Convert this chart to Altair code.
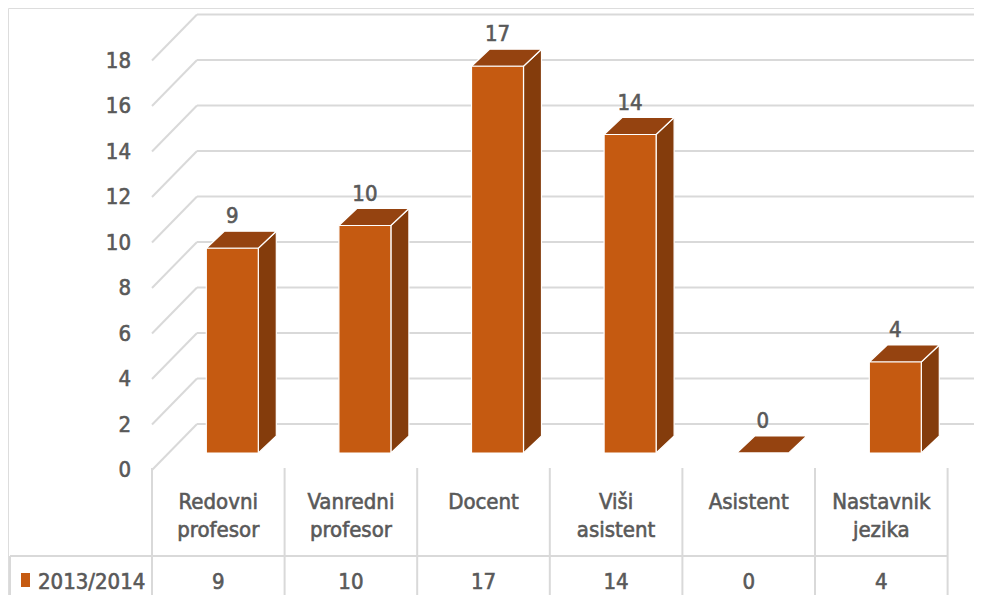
import altair as alt
import pandas as pd

# ---------------- data ----------------
categories = ["Redovni profesor", "Vanredni profesor", "Docent",
              "Viši asistent", "Asistent", "Nastavnik jezika"]
header_lines = [["Redovni", "profesor"], ["Vanredni", "profesor"], ["Docent"],
                ["Viši", "asistent"], ["Asistent"], ["Nastavnik", "jezika"]]
values = [9, 10, 17, 14, 0, 4]
series_name = "2013/2014"
y_ticks = [0, 2, 4, 6, 8, 10, 12, 14, 16, 18]

# ---------------- style / geometry ----------------
FONT = "DejaVu Sans Condensed, Liberation Sans Narrow, sans-serif"
TXT = "#595959"
GRID = "#d9d9d9"
C_FRONT, C_TOP, C_SIDE = "#c55a11", "#954310", "#843c0c"
FS = 22
TEXT_STYLE = dict(font=FONT, fontSize=FS, color=TXT, stroke=TXT, strokeWidth=0.6,
                  baseline="middle")

W, H = 966, 587
PX_U = 132.6      # px per category column
PX_V = 22.75      # px per value unit
U0 = 152 - 8      # plot-x of the column origin
V0 = 470 - 8      # plot-y of value 0 on the front plane
u_min, u_max = -U0 / PX_U, (W - U0) / PX_U
v_min, v_max = -(H - V0) / PX_V, V0 / PX_V


def du(px):
    return px / PX_U


def dv(px):
    return px / PX_V


xs = alt.Scale(domain=[u_min, u_max], nice=False, zero=False)
ys = alt.Scale(domain=[v_min, v_max], nice=False, zero=False)


def X(f):
    return alt.X(f, type="quantitative", scale=xs, axis=None)


def Y(f):
    return alt.Y(f, type="quantitative", scale=ys, axis=None)


n = len(categories)
wall_dx, wall_dy = du(45), dv(46)

# ---------------- gridlines (side wall + back wall) ----------------
grid_rows = []
for t in y_ticks:
    grid_rows.append(dict(x=0, y=t, x2=wall_dx, y2=t + wall_dy))
    grid_rows.append(dict(x=wall_dx, y=t + wall_dy, x2=u_max, y2=t + wall_dy))
grid = alt.Chart(pd.DataFrame(grid_rows)).mark_rule(color=GRID, strokeWidth=2).encode(
    x=X("x"), y=Y("y"), x2="x2", y2="y2")

# ---------------- data table lines ----------------
row_split = dv(470 - 556)
legend_left = du(10 - 152)
tline_rows = []
for i in range(n + 1):
    tline_rows.append(dict(x=i, y=dv(2), x2=i, y2=v_min))
tline_rows.append(dict(x=legend_left, y=row_split, x2=legend_left, y2=v_min))
tline_rows.append(dict(x=legend_left, y=row_split, x2=n, y2=row_split))
tlines = alt.Chart(pd.DataFrame(tline_rows)).mark_rule(color=GRID, strokeWidth=2).encode(
    x=X("x"), y=Y("y"), x2="x2", y2="y2")

# header text
hdr_rows = []
for i, lines in enumerate(header_lines):
    for k, ln in enumerate(lines):
        hdr_rows.append(dict(x=i + 0.5, y=dv(-32 - 28 * k), t=ln))
hdr = alt.Chart(pd.DataFrame(hdr_rows)).mark_text(align="center", **TEXT_STYLE).encode(
    x=X("x"), y=Y("y"), text="t:N")

# data row values
val_row = dv(-112)
vals_df = pd.DataFrame(dict(x=[i + 0.5 for i in range(n)], y=[val_row] * n,
                            t=[str(v) for v in values]))
vals_txt = alt.Chart(vals_df).mark_text(align="center", **TEXT_STYLE).encode(
    x=X("x"), y=Y("y"), text="t:N")

# legend key + series name
key_df = pd.DataFrame([dict(x=du(21 - 152), x2=du(30 - 152), y=dv(470 - 573), y2=dv(470 - 587))])
key = alt.Chart(key_df).mark_rect(color=C_FRONT).encode(x=X("x"), x2="x2", y=Y("y"), y2="y2")
ser_df = pd.DataFrame([dict(x=du(38 - 152), y=val_row, t=series_name)])
ser = alt.Chart(ser_df).mark_text(align="left", **TEXT_STYLE).encode(
    x=X("x"), y=Y("y"), text="t:N")

# y tick labels
tick_df = pd.DataFrame(dict(x=[du(131 - 152)] * len(y_ticks), y=y_ticks,
                            t=[str(t) for t in y_ticks]))
ticks = alt.Chart(tick_df).mark_text(align="right", **TEXT_STYLE).encode(
    x=X("x"), y=Y("y"), text="t:N")

# ---------------- 3-D bars ----------------
shift_x, base = du(14), dv(17)
half = du(26)
dep_x, dep_y = du(18), dv(17)

front_rows, side_rows, top_rows, lab_rows = [], [], [], []
for i, v in enumerate(values):
    cx = i + 0.5 + shift_x
    xl, xr = cx - half, cx + half
    b, t = base, base + v
    front_rows.append(dict(i=i, x=xl, x2=xr, y=b, y2=t))
    side_rows.append(dict(i=i, x=xr, y=b, y2=t))
    side_rows.append(dict(i=i, x=xr + dep_x, y=b + dep_y, y2=t + dep_y))
    top_rows.append(dict(i=i, y=t, x=xl, x2=xr))
    top_rows.append(dict(i=i, y=t + dep_y, x=xl + dep_x, x2=xr + dep_x))
    lab_rows.append(dict(x=cx, y=t + dep_y + dv(15), t=str(v)))

side = alt.Chart(pd.DataFrame(side_rows)).mark_area(
    color=C_SIDE, stroke="white", strokeWidth=1.2, orient="vertical").encode(
    x=X("x"), y=Y("y"), y2="y2", detail="i:N")
top = alt.Chart(pd.DataFrame(top_rows)).mark_area(
    color=C_TOP, stroke="white", strokeWidth=1.2, orient="horizontal").encode(
    y=Y("y"), x=X("x"), x2="x2", detail="i:N")
front = alt.Chart(pd.DataFrame(front_rows)).mark_rect(
    color=C_FRONT, stroke="white", strokeWidth=1.2).encode(
    x=X("x"), x2="x2", y=Y("y"), y2="y2")
labels = alt.Chart(pd.DataFrame(lab_rows)).mark_text(align="center", **TEXT_STYLE).encode(
    x=X("x"), y=Y("y"), text="t:N")

chart = alt.layer(grid, tlines, side, top, front, labels, ticks, hdr, vals_txt, key, ser).properties(
    width=W, height=H, autosize=alt.AutoSizeParams(type="none"), padding=0
).configure_view(stroke=None).configure(background="white")

chart.save("out.html", embed_options={"renderer": "svg", "actions": False})
